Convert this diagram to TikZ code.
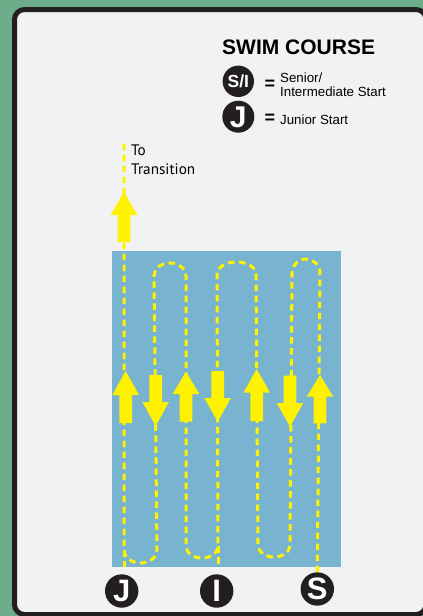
\documentclass[tikz,border=0pt]{standalone}
\usepackage{fontspec}
\newfontfamily\arial{Liberation Sans}
\newfontfamily\ptsans{PT Sans}
\definecolor{bggreen}{RGB}{108,174,138}
\definecolor{panel}{RGB}{241,242,244}
\definecolor{ink}{RGB}{35,31,32}
\definecolor{pool}{RGB}{120,180,207}
\definecolor{ylw}{RGB}{255,242,0}
\tikzset{
  course/.style={draw=ylw,line width=3pt,dash pattern=on 6.5pt off 4.5pt},
  marker/.style={circle,fill=ink,text=white,inner sep=0pt,minimum size=#1,text depth=0pt},
  lbl/.style={inner sep=0pt,anchor=base west},
  yarrow/.style={fill=ylw}
}
\newcommand\yup[4]{\fill[yarrow] (#1-6.3,#4) -- (#1-6.3,#3) -- (#1-13.3,#3) -- (#1,#2) -- (#1+13.3,#3) -- (#1+6.3,#3) -- (#1+6.3,#4) -- cycle;}
\newcommand\ydown[4]{\fill[yarrow] (#1-6.3,#2) -- (#1-6.3,#3) -- (#1-13.3,#3) -- (#1,#4) -- (#1+13.3,#3) -- (#1+6.3,#3) -- (#1+6.3,#2) -- cycle;}
\begin{document}
\begin{tikzpicture}[x=1pt,y=-1pt]
\fill[bggreen] (0,0) rectangle (423,616);
\useasboundingbox (0,0) rectangle (423,616);
\clip (0,0) rectangle (423,616);
\draw[ink,line width=5pt,fill=panel,rounded corners=10pt] (14.5,9.5) rectangle (426,614.5);
% pool
\fill[pool] (112,251) rectangle (341,567);
% start markers
\node[marker=33.4pt,font=\arial\bfseries\fontsize{31}{31}\selectfont] (startJ) at (121.7,591) {J};
\node[marker=33.4pt,font=\arial\bfseries\fontsize{31}{31}\selectfont] (startI) at (216.7,591) {I};
\node[marker=33.4pt,font=\arial\bfseries\fontsize{31}{31}\selectfont] (startS) at (317.3,589) {S};
% course
\draw[course] (startS.north) -- (320,273)
  arc[start angle=0,end angle=-180,x radius=14,y radius=14]
  -- (290,545) arc[start angle=0,end angle=180,x radius=16,y radius=12]
  -- (256,274) arc[start angle=0,end angle=-180,x radius=19.5,y radius=12]
  -- (218,546) arc[start angle=0,end angle=180,x radius=16,y radius=12]
  -- (186,276) arc[start angle=0,end angle=-180,x radius=16,y radius=13]
  -- (157,550) arc[start angle=0,end angle=180,x radius=16.5,y radius=13]
  -- (124,140);
\coordinate (iend) at (218,567);
\coordinate (jend) at (124,567);
\draw[course] (218,546) -- (iend);
\draw[course] (124,550) -- (jend);
% arrows
\yup{124}{191.7}{215}{242}
\yup{125.7}{371}{395}{423}
\ydown{155.7}{375}{402}{426}
\yup{186}{371.7}{394}{421.7}
\ydown{217.7}{371}{398}{421.7}
\yup{256.7}{369}{392.7}{421}
\ydown{290}{375.7}{403}{426.7}
\yup{320}{375}{396.7}{423.3}
% transition label
\node[lbl,font=\ptsans\fontsize{15.2}{18}\selectfont] (to) at (131,155.3) {To};
\node[lbl,font=\ptsans\fontsize{15.2}{18}\selectfont] (trans) at (131,174) {Transition};
% legend
\node[lbl,font=\arial\bfseries\fontsize{21}{21}\selectfont] (title) at (222,54.3) {SWIM COURSE};
\node[marker=31.4pt,font=\arial\bfseries\fontsize{17.5}{17.5}\selectfont] (keySI) at (238.3,81.3) {S/I};
\node[marker=32pt,font=\arial\bfseries\fontsize{30}{30}\selectfont] (keyJ) at (238.3,116.7) {J};
\node[inner sep=0pt,font=\arial\bfseries\fontsize{18}{18}\selectfont] (eqA) at (270,85) {=};
\node[inner sep=0pt,font=\arial\bfseries\fontsize{18}{18}\selectfont] (eqB) at (270,119) {=};
\node[lbl,font=\arial\fontsize{13.3}{14}\selectfont] (sen) at (280,82.5) {Senior/};
\node[lbl,font=\arial\fontsize{13.3}{14}\selectfont] (inter) at (280,96.5) {Intermediate Start};
\node[lbl,font=\arial\fontsize{13.3}{14}\selectfont] (jun) at (280,124) {Junior Start};
\end{tikzpicture}
\end{document}
